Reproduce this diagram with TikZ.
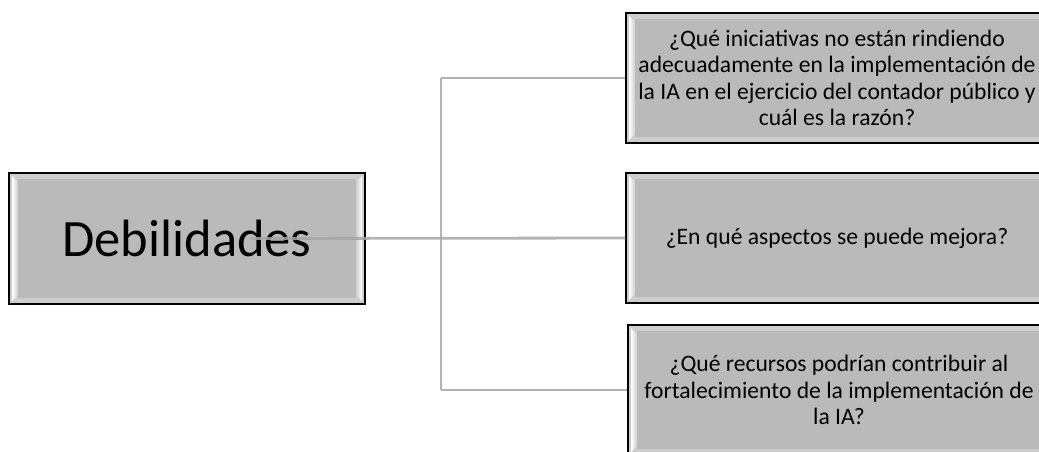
\documentclass[tikz,border=0pt]{standalone}
\usepackage{fontspec}
\setmainfont{Carlito}
\definecolor{boxgray}{HTML}{BABABA}
\definecolor{rimgray}{HTML}{CDCDCD}
\definecolor{linkgray}{HTML}{A6A6A6}
\tikzset{
  bevel/.style={draw=black, line width=1.5pt, fill=boxgray, inner sep=0pt, align=center,
    path picture={
      \coordinate (nw) at (path picture bounding box.north west);
      \coordinate (se) at (path picture bounding box.south east);
      \fill[rimgray] (nw) rectangle (se);
      \fill[boxgray] ([xshift=9pt,yshift=-6pt]nw) rectangle ([xshift=-9pt,yshift=6pt]se);
      \shade[left color=white, right color=rimgray]
        ([xshift=3pt,yshift=-3pt]nw) -- ([xshift=9pt,yshift=-9pt]nw)
        -- ([xshift=9pt,yshift=9pt]nw |- se) -- ([xshift=3pt,yshift=3pt]nw |- se) -- cycle;
      \shade[left color=rimgray, right color=white]
        ([xshift=-3pt,yshift=-3pt]se |- nw) -- ([xshift=-9pt,yshift=-9pt]se |- nw)
        -- ([xshift=-9pt,yshift=9pt]se) -- ([xshift=-3pt,yshift=3pt]se) -- cycle;
    }},
  mainbox/.style={bevel, minimum width=356pt, minimum height=131pt,
    font=\fontsize{52.5}{60}\selectfont},
  qbox/.style={bevel, minimum width=422pt, minimum height=130pt,
    font=\fontsize{23.6}{26.5}\selectfont},
  link/.style={draw=linkgray, line width=2.8pt, opacity=.85}
}
\begin{document}
\begin{tikzpicture}[x=1pt,y=-1pt]
\useasboundingbox (0,0) rectangle (1039,451);
\clip (0,0) rectangle (1039,451);
% boxes
\node[mainbox] (deb) at (187,238.5) {Debilidades};
\node[qbox] (q1) at (837,78) {¿Qué iniciativas no están rindiendo\\adecuadamente en la implementación de\\la IA en el ejercicio del contador público y\\cuál es la razón?};
\node[qbox] (q2) at (837,238) {¿En qué aspectos se puede mejora?};
\node[qbox] (q3) at (839,390) {¿Qué recursos podrían contribuir al\\fortalecimiento de la implementación de\\la IA?};
% connectors
\coordinate (hub) at (441,239);
\coordinate (start) at ([xshift=63pt]deb.center);
\draw[link] (start) -- (q2.west);
\draw[link] (hub |- q1.west) -- (hub |- q3.west);
\foreach \q in {q1,q3} {\draw[link] (hub |- \q.west) -- (\q.west);}
\end{tikzpicture}
\end{document}
